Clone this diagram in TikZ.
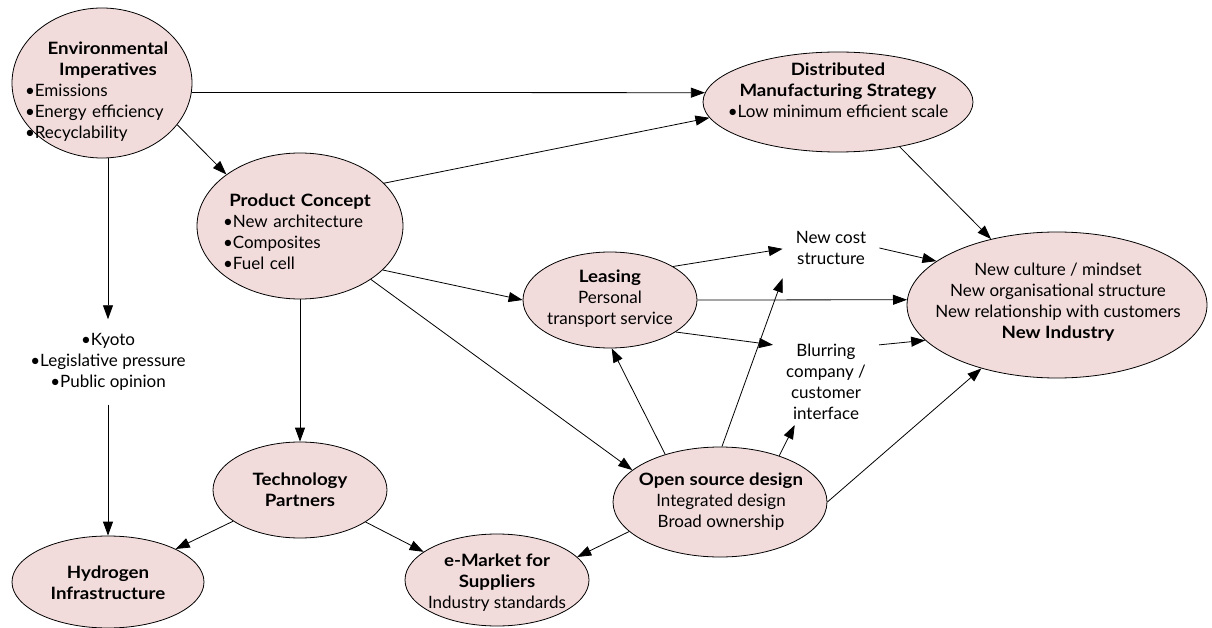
\documentclass[tikz,border=0pt]{standalone}
\usepackage{fontspec}
\setmainfont{Lato}[BoldFeatures={FakeStretch=1.1}]
\usetikzlibrary{shapes.geometric,arrows.meta}
\definecolor{blush}{HTML}{F2DCDB}
\tikzset{
  oval/.style={ellipse,draw,fill=blush,line width=0.8pt,inner sep=0pt},
  ovaltxt/.style={align=center,inner sep=0pt},
  note/.style={align=center,inner xsep=13pt,inner ysep=14pt},
  arr/.style={-{Triangle[length=14pt,width=10pt]},line width=0.8pt},
}
\begin{document}
\begin{tikzpicture}[x=1pt,y=-1pt,font=\fontsize{17}{21}\selectfont]
\useasboundingbox (0,0) rectangle (1212,628);
% ovals (pixel coordinates, y downwards)
\node[oval,minimum width=180pt,minimum height=150pt] (env) at (102,83) {};
\node[oval,minimum width=270pt,minimum height=100pt] (dist) at (838,102) {};
\node[oval,minimum width=206pt,minimum height=146pt] (prod) at (300,226) {};
\node[oval,minimum width=174pt,minimum height=96pt] (lease) at (610,300) {};
\node[oval,minimum width=300pt,minimum height=146pt] (newind) at (1057,305) {};
\node[oval,minimum width=214pt,minimum height=110pt] (open) at (720,502) {};
\node[oval,minimum width=174pt,minimum height=96pt] (tech) at (300,490) {};
\node[oval,minimum width=184pt,minimum height=92pt] (emkt) at (497,580) {};
\node[oval,minimum width=192pt,minimum height=92pt] (hydro) at (108,582) {};
% texts inside the ovals
\node[ovaltxt,align=left,text width=166pt] (env-txt) at (108,92)
  {{\centering\bfseries Environmental\\Imperatives\par}•Emissions\\•Energy efficiency\\•Recyclability};
\node[ovaltxt] (dist-txt) at (838,90) {\textbf{Distributed}\\\textbf{Manufacturing Strategy}\\•Low minimum efficient scale};
\node[ovaltxt,align=left,text width=154pt] (prod-txt) at (300,232)
  {{\centering\bfseries Product Concept\par}•New architecture\\•Composites\\•Fuel cell};
\node[ovaltxt] (lease-txt) at (610,299) {\textbf{Leasing}\\Personal\\transport service};
\node[ovaltxt] (newind-txt) at (1058,302) {New culture / mindset\\New organisational structure\\New relationship with customers\\\textbf{New Industry}};
\node[ovaltxt] (open-txt) at (721,502) {\textbf{Open source design}\\Integrated design\\Broad ownership};
\node[ovaltxt] (tech-txt) at (300,490) {\textbf{Technology}\\\textbf{Partners}};
\node[ovaltxt] (emkt-txt) at (497,583) {\textbf{e-Market for}\\\textbf{Suppliers}\\Industry standards};
\node[ovaltxt] (hydro-txt) at (108,583) {\textbf{Hydrogen}\\\textbf{Infrastructure}};
% free texts
\node[note] (kyoto) at (108,362) {•Kyoto\\•Legislative pressure\\•Public opinion};
\node[note] (newcost) at (831,248) {New cost\\structure};
\node[note,inner ysep=5pt] (blur) at (826,382) {Blurring\\company /\\customer\\interface};
% connectors
\draw[arr] (env.-6) -- (dist.176);
\draw[arr] (env.-29) -- (prod.145);
\draw[arr] (kyoto |- env.south) -- (kyoto);
\draw[arr] (kyoto) -- (hydro);
\draw[arr] (prod.27) -- (dist.-173);
\draw[arr] (prod.-28) -- (lease.180);
\draw[arr] (prod.-37) -- (open.160);
\draw[arr] (prod) -- (tech);
\draw[arr] (tech.-155) -- (hydro.26);
\draw[arr] (tech.-26) -- (emkt.159);
\draw[arr] (open.198) -- (emkt.16);
\draw[arr] (open.139) -- (lease.-88);
\draw[arr] (open.88) -- (newcost.212);
\draw[arr] (open.38) -- (blur.-126);
\draw[arr] (open.0) -- (newind.220);
\draw[arr] (lease.28) -- (newcost.181);
\draw[arr] (lease.0) -- (newind.178);
\draw[arr] (lease.-26) -- (blur.145);
\draw[arr] (newcost.0) -- (newind.160);
\draw[arr] (blur.35) -- (newind.195);
\draw[arr] (dist.-36) -- (newind.135);
\end{tikzpicture}
\end{document}
